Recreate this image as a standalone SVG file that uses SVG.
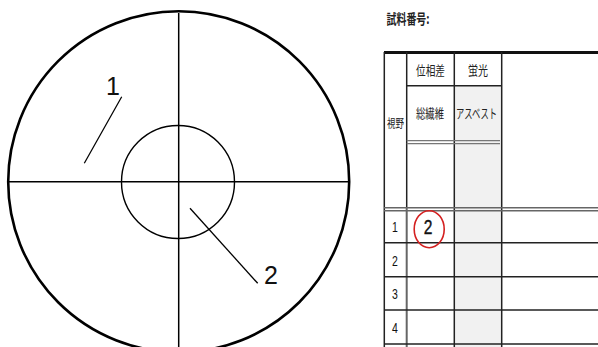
<svg xmlns="http://www.w3.org/2000/svg" width="598" height="347" viewBox="0 0 598 347">
<style>
.ln{stroke:#000;fill:none}
.jp{font-family:"Noto Sans CJK JP","Noto Sans CJK SC",sans-serif;fill:#222}
.num{font-family:"Liberation Sans",Arial,sans-serif;fill:#111}
.grid{stroke:#222;stroke-width:1.5;fill:none}
.gray{stroke:#777;stroke-width:1.2;fill:none}
</style>
<rect width="598" height="347" fill="#fff"/>
<g id="scope">
<circle class="ln" cx="178.7" cy="181.7" r="170.5" stroke-width="2.6"/>
<line class="ln" x1="8" y1="181.7" x2="349.5" y2="181.7" stroke-width="1.5"/>
<line class="ln" x1="178.7" y1="13" x2="178.7" y2="347" stroke-width="1.5"/>
<circle class="ln" cx="178" cy="182" r="56.5" stroke-width="1.4"/>
</g>
<g id="connectors">
<line class="ln" x1="121.7" y1="96.7" x2="84.3" y2="163.3" stroke-width="1.3"/>
<line class="ln" x1="190" y1="208.3" x2="257.7" y2="283.3" stroke-width="1.3"/>
</g>
<g id="label1"><text class="num" x="106" y="95" font-size="25">1</text></g>
<g id="label2"><text class="num" x="264" y="283.5" font-size="25">2</text></g>
<g id="table">
<text class="jp" x="386.5" y="23.5" font-size="14" font-weight="bold" textLength="43" lengthAdjust="spacingAndGlyphs">試料番号:</text>
<rect x="454.3" y="86" width="47.4" height="261" fill="#f1f1f1"/>
<line x1="384" y1="52.5" x2="598" y2="52.5" stroke="#111" stroke-width="3"/>
<line class="grid" x1="384.3" y1="52" x2="384.3" y2="347"/>
<line class="grid" x1="406.7" y1="52" x2="406.7" y2="208"/>
<line x1="406.7" y1="208" x2="406.7" y2="347" stroke="#666" stroke-width="2"/>
<line class="grid" x1="454.3" y1="52" x2="454.3" y2="347"/>
<line class="grid" x1="501.7" y1="52" x2="501.7" y2="347"/>
<line class="grid" x1="406.7" y1="85.7" x2="501.7" y2="85.7"/>
<line class="gray" x1="406.7" y1="140.7" x2="500" y2="140.7"/>
<line class="gray" x1="406.7" y1="143.7" x2="500" y2="143.7"/>
<line x1="384" y1="207.7" x2="598" y2="207.7" stroke="#666" stroke-width="1.6"/>
<line x1="384" y1="210.7" x2="598" y2="210.7" stroke="#666" stroke-width="1.6"/>
<line class="grid" x1="384" y1="242.7" x2="598" y2="242.7" stroke="#444"/>
<line class="grid" x1="384" y1="276.7" x2="598" y2="276.7" stroke="#444"/>
<line class="grid" x1="384" y1="310" x2="598" y2="310" stroke="#444"/>
<line class="grid" x1="384" y1="344" x2="598" y2="344" stroke="#444"/>
<text class="jp" x="416" y="75" font-size="13" textLength="29" lengthAdjust="spacingAndGlyphs">位相差</text>
<text class="jp" x="468" y="75" font-size="13" textLength="20" lengthAdjust="spacingAndGlyphs">蛍光</text>
<text class="jp" x="416" y="118" font-size="13" textLength="28" lengthAdjust="spacingAndGlyphs">総繊維</text>
<text class="jp" x="456" y="118" font-size="13" textLength="41" lengthAdjust="spacingAndGlyphs">アスベスト</text>
<text class="jp" x="387" y="127.5" font-size="12" textLength="17" lengthAdjust="spacingAndGlyphs">視野</text>
<text class="num" x="395" y="232.5" font-size="15" text-anchor="middle" transform="translate(395 0) scale(0.7 1) translate(-395 0)">1</text>
<text class="num" x="395" y="266" font-size="15" text-anchor="middle" transform="translate(395 0) scale(0.7 1) translate(-395 0)">2</text>
<text class="num" x="395" y="299.5" font-size="15" text-anchor="middle" transform="translate(395 0) scale(0.7 1) translate(-395 0)">3</text>
<text class="num" x="395" y="333.5" font-size="15" text-anchor="middle" transform="translate(395 0) scale(0.7 1) translate(-395 0)">4</text>
</g>
<g id="mark">
<ellipse cx="429.2" cy="229.2" rx="15" ry="18.5" fill="none" stroke="#d42020" stroke-width="1.6"/>
<text class="num" x="428.2" y="234.3" font-size="20" text-anchor="middle" stroke="#111" stroke-width="0.4" transform="translate(428.2 0) scale(0.78 1) translate(-428.2 0)">2</text>
</g>
</svg>
